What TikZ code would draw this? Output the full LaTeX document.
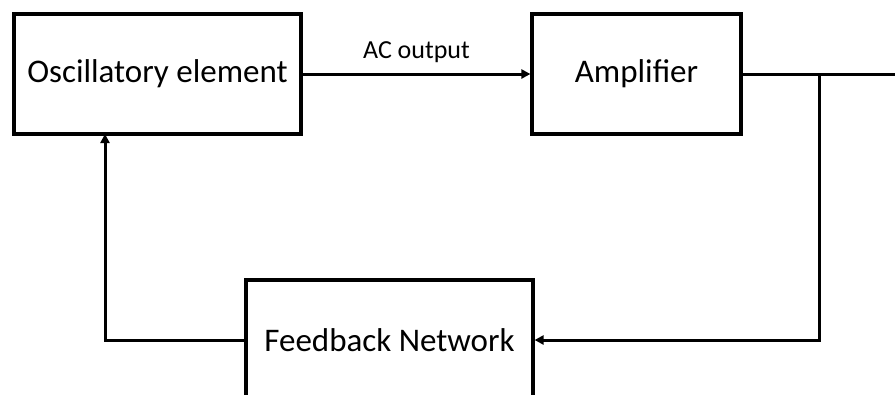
\documentclass[tikz,border=0pt]{standalone}
\usepackage{fontspec}
\setmainfont{Carlito}
\usetikzlibrary{arrows.meta}
\tikzset{
  blk/.style={draw=black, line width=3.2pt, fill=white, inner sep=0pt, font=\fontsize{33}{40}\selectfont},
  wire/.style={draw=black, line width=3pt},
  arr/.style={wire, -{Triangle[length=9pt,width=9pt]}},
  lbl/.style={font=\fontsize{26}{32}\selectfont, inner sep=0pt}
}
\begin{document}
\begin{tikzpicture}[x=1pt,y=-1pt]
\useasboundingbox (0,0) rectangle (895,394);
\clip (0,0) rectangle (895,394);
\fill[white] (0,0) rectangle (895,394);
\node[blk, minimum width=287pt, minimum height=120pt] (osc) at (157.5,74) {Oscillatory element};
\node[blk, minimum width=209pt, minimum height=120pt] (amp) at (636.5,74) {Amplifier};
\node[blk, minimum width=287pt, minimum height=120pt] (fb) at (389.5,340) {Feedback Network};
\coordinate (j) at (819,74);
\coordinate (out) at (897,74);
\coordinate (up) at (105,134);
\draw[arr] (osc.east) -- node[lbl, above=10pt] (ac) {AC output} (amp.west);
\draw[wire] (amp.east) -- (out);
\draw[arr] (j) |- (fb.east);
\draw[arr] (fb.west) -| (up);
\end{tikzpicture}
\end{document}
